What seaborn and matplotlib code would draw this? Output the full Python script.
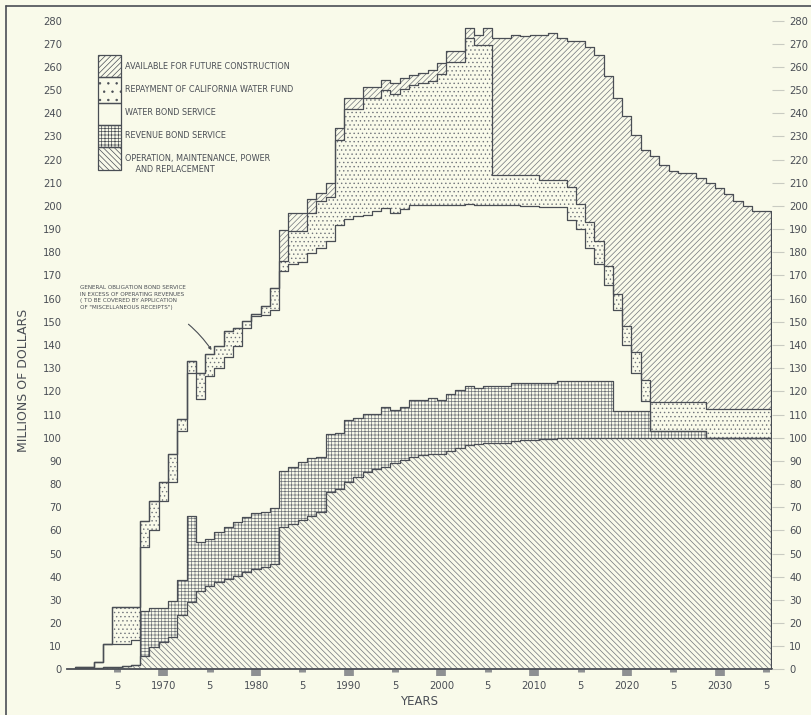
import matplotlib
matplotlib.use("Agg")
import numpy as np
import matplotlib.pyplot as plt
from matplotlib.patches import Rectangle
from matplotlib.lines import Line2D
import seaborn as sns

# fiscal years, one step each
years = np.arange(1961, 2036)

# top of each stacked band, millions of dollars
om_top = [0.5, 0.5, 0.7, 1.0, 1.0, 1.5, 2.0, 5.6, 9.6,
          11.8, 13.9, 23.3, 29.0, 33.7, 35.8, 37.9, 39.0, 40.5, 41.9,
          43.4, 44.0, 45.5, 61.3, 62.8, 64.5, 66.3, 67.8, 76.4, 77.9,
          81.0, 83.0, 85.4, 86.4, 87.4, 88.9, 90.3, 91.5, 92.6, 92.8,
          93.0, 94.3, 95.7, 96.9, 97.2, 97.5, 97.7, 97.8, 98.6, 99.0,
          99.0, 99.3, 99.5] + [100.0] * 23
rev_top = [0.5, 0.5, 0.7, 1.0, 1.0, 1.5, 2.0, 25.4, 26.4,
           26.4, 29.7, 38.6, 66.3, 55.1, 56.3, 59.2, 61.3, 63.5, 65.6,
           67.3, 67.8, 69.5, 85.7, 87.5, 89.7, 91.2, 91.5, 101.5, 102.0,
           107.5, 108.7, 110.1, 110.1, 113.3, 111.9, 113.3, 116.2, 116.2, 117.3,
           116.2, 119.0, 120.5, 122.3, 121.3, 122.3, 122.3, 122.3, 123.8, 123.8,
           123.8, 123.8, 123.8] + [124.5] * 6 + [111.6] * 4 + [103.0] * 6 + [100.0] * 7
wbs_top = [1.0, 1.0, 3.0, 11.0, 11.0, 11.0, 12.5, 52.7, 60.0,
           72.8, 80.7, 103.0, 128.0, 116.6, 126.6, 130.0, 135.0, 139.6, 147.5,
           152.5, 153.0, 155.3, 171.9, 174.8, 176.0, 179.8, 182.0, 184.8, 192.0,
           194.2, 195.6, 196.3, 197.7, 199.2, 197.0, 198.5, 200.3, 200.3, 200.3,
           200.3, 200.3, 200.3, 201.0, 200.3, 200.3, 200.3, 200.3, 200.3, 200.0,
           200.0, 199.5, 199.5, 199.5, 194.0, 190.0, 182.0, 175.0, 166.0, 155.0,
           140.0, 128.0, 116.0] + [103.0] * 6 + [100.0] * 7
cwf_top = [1.0, 1.0, 3.0, 11.0, 27.0, 27.0, 27.0, 64.2, 72.8,
           80.7, 93.0, 108.0, 133.0, 128.0, 136.0, 139.6, 146.0, 147.5, 150.4,
           153.2, 156.8, 164.7, 176.2, 189.0, 189.0, 197.0, 202.0, 204.0, 228.6,
           242.0, 242.0, 246.5, 246.5, 250.0, 248.5, 250.5, 252.0, 253.0, 254.0,
           257.0, 262.0, 262.0, 272.5, 269.6, 269.6, 213.5, 213.5, 213.5, 213.5,
           213.5, 211.4, 211.4, 211.4, 208.0, 201.0, 193.0, 185.0, 174.0, 162.0,
           148.0, 137.0, 125.0] + [115.2] * 6 + [112.3] * 7
fut_top = [1.0, 1.0, 3.0, 11.0, 27.0, 27.0, 27.0, 64.2, 72.8,
           80.7, 93.0, 108.0, 133.0, 128.0, 136.0, 139.6, 146.0, 147.5, 150.4,
           153.2, 156.8, 164.7, 189.8, 197.0, 197.0, 202.8, 205.6, 210.0, 233.6,
           246.6, 246.6, 251.2, 251.2, 254.4, 253.0, 255.2, 256.6, 257.6, 258.8,
           261.7, 266.7, 266.7, 277.0, 273.9, 277.0, 272.5, 272.5, 273.9, 273.5,
           273.9, 273.9, 274.6, 272.5, 271.0, 271.0, 268.8, 265.2, 255.9, 246.6,
           238.7, 230.8, 224.3, 221.4, 217.8, 215.0, 214.3, 214.3, 212.2, 210.0,
           207.8, 205.0, 202.0, 199.9, 197.8, 197.8]

legend_labels = ["AVAILABLE FOR FUTURE CONSTRUCTION",
                 "REPAYMENT OF CALIFORNIA WATER FUND",
                 "WATER BOND SERVICE",
                 "REVENUE BOND SERVICE",
                 "OPERATION, MAINTENANCE, POWER\n    AND REPLACEMENT"]
decade_ticks = [1970, 1980, 1990, 2000, 2010, 2020, 2030]
half_ticks = [1965, 1975, 1985, 1995, 2005, 2015, 2025, 2035]
y_ticks = list(range(0, 290, 10))
note = ("GENERAL OBLIGATION BOND SERVICE\nIN EXCESS OF OPERATING REVENUES\n"
        "( TO BE COVERED BY APPLICATION\nOF \"MISCELLANEOUS RECEIPTS\")")

paper = "#f9faea"
ink = "#4a4e55"
hatch_ink = "#70747a"

sns.set_theme(style="white")
plt.rcParams["font.family"] = ["DejaVu Sans"]
plt.rcParams["hatch.linewidth"] = 0.5

W, H = 812, 715
fig = plt.figure(figsize=(W / 100, H / 100), dpi=100, facecolor=paper)
ax = fig.add_axes([67 / W, (H - 669.4) / H, 705 / W, 656.9 / H])
ax.set_facecolor(paper)

edges = np.append(years - 0.5, years[-1] + 0.5)


def ext(v):
    v = np.asarray(v, dtype=float)
    return np.append(v, v[-1])


bands = [(np.zeros(len(years)), om_top, "\\\\\\\\\\\\"),
         (om_top, rev_top, "+++++"),
         (rev_top, wbs_top, None),
         (wbs_top, cwf_top, "...."),
         (cwf_top, fut_top, "//////")]
for lo, hi, hatch in bands:
    if hatch is None:
        continue
    ax.fill_between(edges, ext(lo), ext(hi), step="post", facecolor="none",
                    edgecolor=hatch_ink, hatch=hatch, linewidth=0)

for top in [om_top, rev_top, wbs_top, cwf_top, fut_top]:
    sns.lineplot(x=edges, y=ext(top), ax=ax, drawstyle="steps-post",
                 color=ink, linewidth=0.9, estimator=None, sort=False)
ax.vlines(edges[-1], 0, fut_top[-1], color=ink, linewidth=0.9)

ax.set_xlim(1965 - 50 / 9.27, 1965 + 655 / 9.27)
ax.set_ylim(0, 283.5)
for s in ["left", "right", "top"]:
    ax.spines[s].set_visible(False)
ax.spines["bottom"].set_color(ink)
ax.spines["bottom"].set_linewidth(1.3)

ax.set_xticks(decade_ticks)
ax.set_xticklabels([str(y) for y in decade_ticks])
ax.set_xticks(half_ticks, minor=True)
ax.set_xticklabels(["5"] * len(half_ticks), minor=True)
ax.tick_params(axis="x", which="major", bottom=True, direction="out", length=5,
               width=7, color="#8e9092", pad=3.3, labelsize=7.2, labelcolor=ink)
ax.tick_params(axis="x", which="minor", bottom=True, direction="out", length=2.5,
               width=5, color="#8e9092", pad=5.8, labelsize=7.2, labelcolor=ink)

ax.set_yticks(y_ticks)
ax.set_yticklabels([str(v) for v in y_ticks])
ax.tick_params(axis="y", left=False, length=0, pad=3.6, labelsize=7.2, labelcolor=ink)

ax2 = ax.twinx()
ax2.set_ylim(ax.get_ylim())
ax2.set_yticks(y_ticks)
ax2.set_yticklabels([str(v) for v in y_ticks])
ax2.tick_params(axis="y", right=True, direction="out", length=8.5, width=0.8,
                color="#c9cbc2", pad=4, labelsize=7.2, labelcolor=ink)
for s in ax2.spines.values():
    s.set_visible(False)
ax2.grid(False)


def fx(x):
    return x / W


def fy(y):
    return 1 - y / H


# legend key, drawn as a column of hatched boxes
key_hatches = ["//////", "..", None, "+++++", "\\\\\\\\\\\\"]
key_rows = [55, 77, 103, 125, 147, 170]
for i, h in enumerate(key_hatches):
    y0, y1 = key_rows[i], key_rows[i + 1]
    fig.add_artist(Rectangle((fx(98), fy(y1)), fx(121) - fx(98), fy(y0) - fy(y1),
                             transform=fig.transFigure, facecolor="none",
                             edgecolor=ink, hatch=h, linewidth=0.9))
text_y = [66.7, 90, 112.7, 136, 153.5]
for lab, ty in zip(legend_labels, text_y):
    fig.text(fx(125), fy(ty), lab, fontsize=5.9, color=ink,
             va="center" if "\n" not in lab else "top", ha="left", linespacing=1.3)

ax.annotate(note, xy=(1975.2, 137.8), xytext=(1961.0, 160.5), fontsize=4.1, color=ink,
            ha="left", va="center", linespacing=1.35,
            arrowprops=dict(arrowstyle="-|>", color=ink, lw=0.8,
                            shrinkA=14, shrinkB=0, connectionstyle="arc3,rad=-0.2"))

fig.text(fx(419), fy(701.7), "YEARS", fontsize=8.5, color=ink, ha="center", va="center")
fig.text(fx(24), fy(380), "MILLIONS OF DOLLARS", fontsize=9, color=ink,
         rotation=90, ha="center", va="center")

fig.add_artist(Line2D([fx(6), fx(6)], [fy(6), 0], transform=fig.transFigure,
                      color=ink, linewidth=1.2))
fig.add_artist(Line2D([fx(6), 1], [fy(6), fy(6)], transform=fig.transFigure,
                      color=ink, linewidth=1.2))

fig.savefig("out.png", dpi=100, facecolor=paper)
